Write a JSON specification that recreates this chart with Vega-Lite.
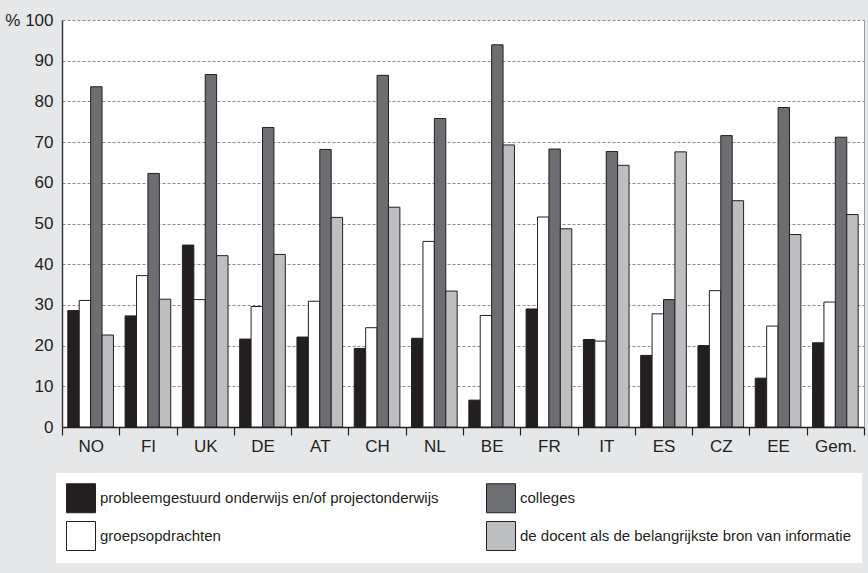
{
  "$schema": "https://vega.github.io/schema/vega-lite/v6.json",
  "autosize": {"type": "none"},
  "padding": {"left": 62, "top": 20, "right": 4, "bottom": 146},
  "width": 802,
  "height": 407,
  "background": "#e6e7e8",
  "config": {
    "view": {"fill": "white", "stroke": null},
    "font": "Liberation Sans, Arial, sans-serif"
  },
  "data": {
    "values": [
      {"land": "NO", "type": "p", "pct": 28.6}, {"land": "NO", "type": "g", "pct": 31.1}, {"land": "NO", "type": "c", "pct": 83.6}, {"land": "NO", "type": "d", "pct": 22.6},
      {"land": "FI", "type": "p", "pct": 27.3}, {"land": "FI", "type": "g", "pct": 37.2}, {"land": "FI", "type": "c", "pct": 62.3}, {"land": "FI", "type": "d", "pct": 31.4},
      {"land": "UK", "type": "p", "pct": 44.7}, {"land": "UK", "type": "g", "pct": 31.3}, {"land": "UK", "type": "c", "pct": 86.6}, {"land": "UK", "type": "d", "pct": 42.1},
      {"land": "DE", "type": "p", "pct": 21.6}, {"land": "DE", "type": "g", "pct": 29.6}, {"land": "DE", "type": "c", "pct": 73.6}, {"land": "DE", "type": "d", "pct": 42.4},
      {"land": "AT", "type": "p", "pct": 22.1}, {"land": "AT", "type": "g", "pct": 30.9}, {"land": "AT", "type": "c", "pct": 68.2}, {"land": "AT", "type": "d", "pct": 51.5},
      {"land": "CH", "type": "p", "pct": 19.3}, {"land": "CH", "type": "g", "pct": 24.4}, {"land": "CH", "type": "c", "pct": 86.4}, {"land": "CH", "type": "d", "pct": 54.0},
      {"land": "NL", "type": "p", "pct": 21.8}, {"land": "NL", "type": "g", "pct": 45.6}, {"land": "NL", "type": "c", "pct": 75.8}, {"land": "NL", "type": "d", "pct": 33.4},
      {"land": "BE", "type": "p", "pct": 6.6}, {"land": "BE", "type": "g", "pct": 27.4}, {"land": "BE", "type": "c", "pct": 93.9}, {"land": "BE", "type": "d", "pct": 69.3},
      {"land": "FR", "type": "p", "pct": 29.0}, {"land": "FR", "type": "g", "pct": 51.6}, {"land": "FR", "type": "c", "pct": 68.3}, {"land": "FR", "type": "d", "pct": 48.7},
      {"land": "IT", "type": "p", "pct": 21.5}, {"land": "IT", "type": "g", "pct": 21.1}, {"land": "IT", "type": "c", "pct": 67.7}, {"land": "IT", "type": "d", "pct": 64.3},
      {"land": "ES", "type": "p", "pct": 17.6}, {"land": "ES", "type": "g", "pct": 27.8}, {"land": "ES", "type": "c", "pct": 31.3}, {"land": "ES", "type": "d", "pct": 67.6},
      {"land": "CZ", "type": "p", "pct": 20.0}, {"land": "CZ", "type": "g", "pct": 33.5}, {"land": "CZ", "type": "c", "pct": 71.6}, {"land": "CZ", "type": "d", "pct": 55.6},
      {"land": "EE", "type": "p", "pct": 12.0}, {"land": "EE", "type": "g", "pct": 24.8}, {"land": "EE", "type": "c", "pct": 78.5}, {"land": "EE", "type": "d", "pct": 47.3},
      {"land": "Gem.", "type": "p", "pct": 20.7}, {"land": "Gem.", "type": "g", "pct": 30.7}, {"land": "Gem.", "type": "c", "pct": 71.2}, {"land": "Gem.", "type": "d", "pct": 52.2}
    ]
  },
  "transform": [
    {"calculate": "datum.type == 'p' ? 'probleemgestuurd onderwijs en/of projectonderwijs' : datum.type == 'g' ? 'groepsopdrachten' : datum.type == 'c' ? 'colleges' : 'de docent als de belangrijkste bron van informatie'", "as": "reeks"}
  ],
  "encoding": {
    "x": {
      "field": "land", "type": "nominal", "sort": null,
      "scale": {"paddingInner": 0, "paddingOuter": 0},
      "axis": {
        "title": null, "tickBand": "extent", "labelAngle": 0,
        "domainColor": "#231f20", "domainWidth": 1.5, "tickColor": "#231f20", "tickWidth": 1.2, "tickSize": 8,
        "labelFontSize": 17, "labelColor": "#231f20", "labelPadding": 3, "grid": false
      }
    },
    "xOffset": {
      "field": "type", "type": "nominal",
      "sort": ["p", "g", "c", "d"],
      "scale": {"paddingInner": 0, "paddingOuter": 0.51}
    },
    "y": {
      "field": "pct", "type": "quantitative",
      "scale": {"domain": [0, 100], "nice": false}
    }
  },
  "layer": [
    {
      "mark": {"type": "bar", "stroke": "#231f20", "strokeWidth": 1},
      "encoding": {
        "y": {
          "field": "pct", "type": "quantitative",
          "scale": {"domain": [0, 100], "nice": false},
          "axis": {
            "title": null, "values": [0, 10, 20, 30, 40, 50, 60, 70, 80, 90, 100],
            "labelExpr": "datum.value == 100 ? '% 100' : datum.label",
            "ticks": false, "labelPadding": 9, "labelFontSize": 17, "labelColor": "#231f20",
            "domainColor": "#3a3a3c", "domainWidth": 1.5,
            "gridColor": "#8a8a8c", "gridDash": [3, 2], "gridWidth": 1
          }
        },
        "color": {
          "field": "reeks", "type": "nominal",
          "scale": {
            "domain": ["probleemgestuurd onderwijs en/of projectonderwijs", "groepsopdrachten", "colleges", "de docent als de belangrijkste bron van informatie"],
            "range": ["#231f20", "#ffffff", "#6d6e71", "#bcbec0"]
          },
          "legend": {
            "title": null, "orient": "none", "legendX": -6, "legendY": 453,
            "columns": 2, "fillColor": "white", "padding": 10,
            "symbolType": "square", "symbolSize": 841, "symbolStrokeColor": "#231f20", "symbolStrokeWidth": 1,
            "labelFontSize": 15, "labelColor": "#231f20", "labelLimit": 600, "labelOffset": 4,
            "rowPadding": 4, "columnPadding": 45
          }
        }
      }
    },
    {
      "mark": {"type": "bar", "opacity": 0},
      "encoding": {
        "y": {
          "field": "pct", "type": "quantitative",
          "axis": {"orient": "right", "title": null, "labels": false, "ticks": false, "grid": false, "domainColor": "#9a9a9c", "domainWidth": 1}
        }
      }
    }
  ],
  "resolve": {"axis": {"y": "independent"}}
}
